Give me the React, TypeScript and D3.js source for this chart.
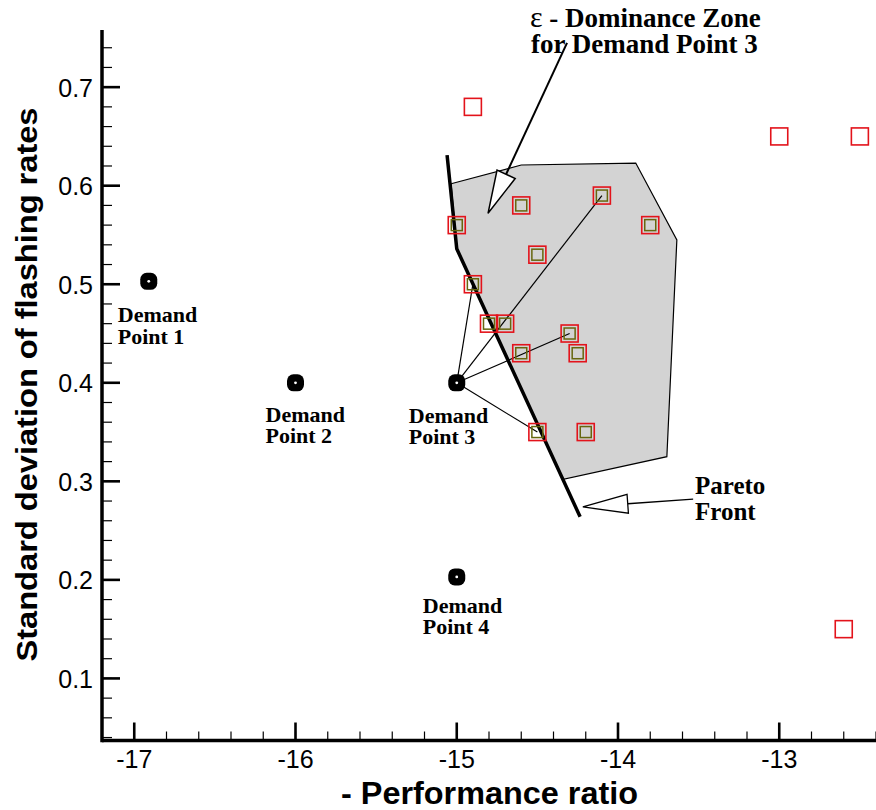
import { useEffect } from "react"
import * as d3 from "d3"

// ---- data ----
const xTickLabels = [-17, -16, -15, -14, -13]
const yTickLabels = [0.1, 0.2, 0.3, 0.4, 0.5, 0.6, 0.7]

// solutions outside the dominance zone
const outsideX = [-14.9, -13.0, -12.5, -12.6]
const outsideY = [0.68, 0.65, 0.65, 0.15]

// solutions inside the dominance zone of demand point 3
const zoneX = [-15.0, -14.6, -14.1, -13.8, -14.5, -14.9, -14.8, -14.7, -14.3, -14.6, -14.25, -14.5, -14.2]
const zoneY = [0.56, 0.58, 0.59, 0.56, 0.53, 0.5, 0.46, 0.46, 0.45, 0.43, 0.43, 0.35, 0.35]

const demandNames = ["Point 1", "Point 2", "Point 3", "Point 4"]
const demandX = [-16.91, -16.0, -15.0, -15.0]
const demandY = [0.503, 0.4, 0.4, 0.203]

// solutions linked to demand point 3
const linkX = [-14.9, -14.1, -14.3, -14.5]
const linkY = [0.5, 0.59, 0.45, 0.35]

const paretoX = [-15.06, -15.0, -14.235]
const paretoY = [0.631, 0.536, 0.264]

const zoneHullX = [-15.035, -14.6, -13.89, -13.635, -13.697, -14.34, -15.0]
const zoneHullY = [0.602, 0.621, 0.623, 0.545, 0.325, 0.302, 0.536]

// ---- layout ----
const W = 876
const H = 810
const serif = "'Liberation Serif', 'Times New Roman', serif"
const sans = "'Liberation Sans', Arial, sans-serif"

const x = d3.scaleLinear().domain([-17.2, -12.4]).range([102, 876])
const y = d3.scaleLinear().domain([0.037, 0.758]).range([740.5, 30])

// label offsets (px) from each demand point
const labelDx = [-31, -30, -48, -34]
const labelDy = [41, 39, 40, 36]

function arrowHead(tip: [number, number], tail: [number, number], len: number, half: number) {
  const dx = tail[0] - tip[0]
  const dy = tail[1] - tip[1]
  const d = Math.hypot(dx, dy)
  const ux = dx / d, uy = dy / d
  const bx = tip[0] + ux * len, by = tip[1] + uy * len
  const px = -uy, py = ux
  return {
    pts: `${tip[0]},${tip[1]} ${bx + px * half},${by + py * half} ${bx - px * half},${by - py * half}`,
    base: [bx, by] as [number, number],
  }
}

export default function App() {
  useEffect(() => {
    document.body.style.margin = "0"
  }, [])

  const xMinor = d3.range(-17.2, -12.39, 0.2)
  const yMinor = d3.range(0.04, 0.75, 0.02)

  const line = d3.line<[number, number]>().x(d => x(d[0])).y(d => y(d[1]))
  const pareto = line(paretoX.map((v, i) => [v, paretoY[i]]))
  const hull = line(zoneHullX.map((v, i) => [v, zoneHullY[i]])) + "Z"

  // annotation arrows (in data units)
  const epsTip: [number, number] = [x(-14.806), y(0.572)]
  const epsTail: [number, number] = [x(-14.316), y(0.745)]
  const epsHead = arrowHead(epsTip, epsTail, 43, 10)
  const parTip: [number, number] = [x(-14.218), y(0.274)]
  const parTail: [number, number] = [x(-13.534), y(0.282)]
  const parHead = arrowHead(parTip, parTail, 45, 9.5)

  const sq = 17
  const sqIn = 11

  return (
    <svg width={W} height={H} style={{ display: "block", background: "#fff" }}>
      {/* dominance zone */}
      <path d={hull} fill="#d3d3d3" stroke="#000" strokeWidth={1.2} />

      {/* links from demand point 3 */}
      {linkX.map((v, i) => (
        <line key={"l" + i} x1={x(demandX[2])} y1={y(demandY[2])} x2={x(v)} y2={y(linkY[i])}
          stroke="#000" strokeWidth={1.2} />
      ))}

      {/* pareto front */}
      <path d={pareto ?? ""} fill="none" stroke="#000" strokeWidth={3.5} />

      {/* solutions */}
      {outsideX.concat(zoneX).map((v, i) => {
        const yy = outsideY.concat(zoneY)[i]
        return (
          <rect key={"r" + i} x={x(v) - sq / 2} y={y(yy) - sq / 2} width={sq} height={sq}
            fill="none" stroke="#e3131b" strokeWidth={1.6} />
        )
      })}
      {zoneX.map((v, i) => (
        <rect key={"o" + i} x={x(v) - sqIn / 2} y={y(zoneY[i]) - sqIn / 2} width={sqIn} height={sqIn}
          fill="none" stroke="#66660e" strokeWidth={1.5} />
      ))}

      {/* demand points */}
      {demandX.map((v, i) => (
        <g key={"d" + i}>
          <rect x={x(v) - 8.5} y={y(demandY[i]) - 8.5} width={17} height={17} rx={6.5} fill="#000" />
          <circle cx={x(v)} cy={y(demandY[i])} r={1.4} fill="#fff" />
          <text x={x(v) + labelDx[i]} y={y(demandY[i]) + labelDy[i]} fontFamily={serif}
            fontWeight="bold" fontSize={22} fill="#000">Demand</text>
          <text x={x(v) + labelDx[i]} y={y(demandY[i]) + labelDy[i] + 21.5} fontFamily={serif}
            fontWeight="bold" fontSize={22} fill="#000">{demandNames[i]}</text>
        </g>
      ))}

      {/* epsilon annotation */}
      <line x1={epsTail[0]} y1={epsTail[1]} x2={epsHead.base[0]} y2={epsHead.base[1]} stroke="#000" strokeWidth={2} />
      <polygon points={epsHead.pts} fill="#fff" stroke="#000" strokeWidth={1.5} />
      <text x={530} y={27} fontFamily={serif} fontWeight="bold" fontSize={27} fill="#000">
        <tspan fontWeight="normal" fontSize={30}>ε</tspan> - Dominance Zone
      </text>
      <text x={531} y={53} fontFamily={serif} fontWeight="bold" fontSize={27} fill="#000">
        for Demand Point 3
      </text>

      {/* pareto annotation */}
      <line x1={parTail[0]} y1={parTail[1]} x2={parHead.base[0]} y2={parHead.base[1]} stroke="#000" strokeWidth={1.3} />
      <polygon points={parHead.pts} fill="#fff" stroke="#000" strokeWidth={1.3} />
      <text x={695} y={494} fontFamily={serif} fontWeight="bold" fontSize={25} fill="#000">Pareto</text>
      <text x={695} y={520} fontFamily={serif} fontWeight="bold" fontSize={25} fill="#000">Front</text>

      {/* axes */}
      {xMinor.map((t, i) => (
        <line key={"xm" + i} x1={x(t)} x2={x(t)} y1={y.range()[0]} y2={y.range()[0] - 9} stroke="#000" strokeWidth={1.2} />
      ))}
      {xTickLabels.map(t => (
        <g key={"xt" + t}>
          <line x1={x(t)} x2={x(t)} y1={y.range()[0]} y2={y.range()[0] - 18} stroke="#000" strokeWidth={2.6} />
          <text x={x(t)} y={768} textAnchor="middle" fontFamily={sans} fontSize={25} fill="#000">{t}</text>
        </g>
      ))}
      {yMinor.map((t, i) => (
        <line key={"ym" + i} x1={x.range()[0]} x2={x.range()[0] + 10} y1={y(t)} y2={y(t)} stroke="#000" strokeWidth={1.2} />
      ))}
      {yTickLabels.map(t => (
        <g key={"yt" + t}>
          <line x1={x.range()[0]} x2={x.range()[0] + 18} y1={y(t)} y2={y(t)} stroke="#000" strokeWidth={2.6} />
          <text x={93} y={y(t) + 9.5} textAnchor="end" fontFamily={sans} fontSize={25} fill="#000">{d3.format(".1f")(t)}</text>
        </g>
      ))}
      <line x1={x.range()[0]} x2={x.range()[1]} y1={y.range()[0]} y2={y.range()[0]} stroke="#000" strokeWidth={3.5} />
      <line x1={x.range()[0]} x2={x.range()[0]} y1={y.range()[0] + 1.75} y2={y.range()[1]} stroke="#000" strokeWidth={3.5} />

      {/* axis titles */}
      <text x={489.5} y={804} textAnchor="middle" fontFamily={sans} fontWeight="bold" fontSize={31}
        textLength={297} lengthAdjust="spacingAndGlyphs" fill="#000">- Performance ratio</text>
      <text transform="translate(37,384.5) rotate(-90)" textAnchor="middle" fontFamily={sans} fontWeight="bold"
        fontSize={30} textLength={554} lengthAdjust="spacingAndGlyphs" fill="#000">
        Standard deviation of flashing rates
      </text>
    </svg>
  )
}
